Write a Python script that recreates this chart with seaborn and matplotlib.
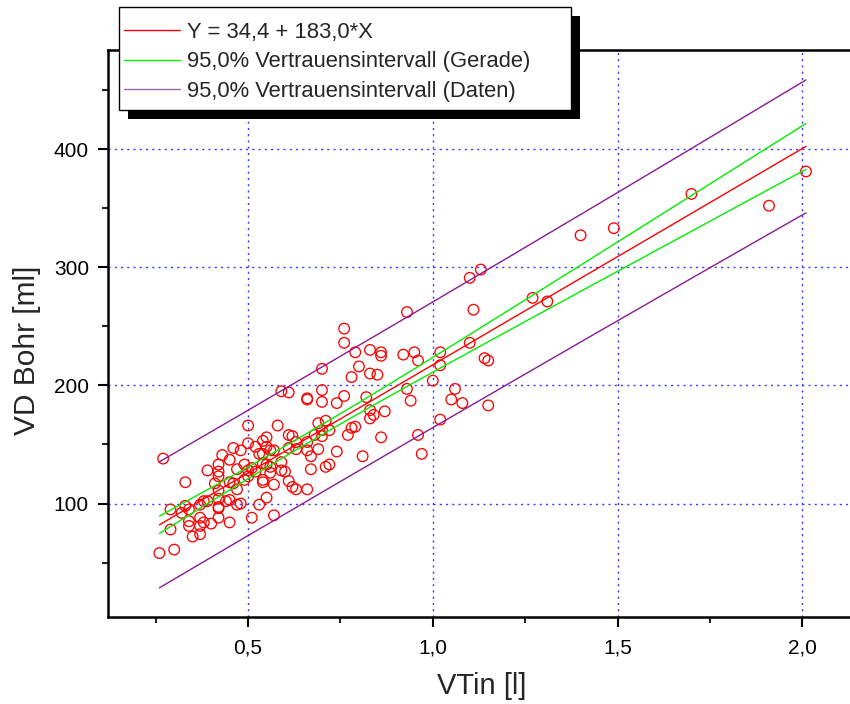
import numpy as np
import pandas as pd
import matplotlib
matplotlib.use("Agg")
import matplotlib.pyplot as plt
import seaborn as sns
from matplotlib.patches import Rectangle
from matplotlib.lines import Line2D
from matplotlib.ticker import FixedLocator

# ---------------- data ----------------
vtin = [2.01, 1.91, 1.70, 1.49, 1.40, 1.13, 1.10, 0.93, 1.11, 1.27,
        1.31, 1.10, 1.02, 1.02, 0.95, 0.92, 0.96, 1.00, 1.14, 1.15,
        0.93, 0.94, 1.06, 1.05, 1.08, 1.15, 1.02, 0.96, 0.97, 0.76,
        0.76, 0.79, 0.83, 0.86, 0.86, 0.80, 0.70, 0.78, 0.83, 0.85,
        0.59, 0.61, 0.70, 0.66, 0.66, 0.70, 0.74, 0.76, 0.82, 0.83,
        0.87, 0.84, 0.83, 0.78, 0.79, 0.77, 0.86, 0.81, 0.74, 0.71,
        0.69, 0.70, 0.70, 0.72, 0.68, 0.66, 0.69, 0.66, 0.67, 0.67,
        0.71, 0.72, 0.66, 0.63, 0.62, 0.61, 0.59, 0.59, 0.60, 0.61,
        0.61, 0.62, 0.58, 0.50, 0.57, 0.55, 0.53, 0.51, 0.48, 0.45,
        0.44, 0.45, 0.42, 0.42, 0.42, 0.42, 0.42, 0.41, 0.45, 0.46,
        0.47, 0.49, 0.50, 0.51, 0.52, 0.50, 0.49, 0.47, 0.42, 0.42,
        0.42, 0.39, 0.33, 0.43, 0.45, 0.46, 0.48, 0.50, 0.52, 0.53,
        0.54, 0.55, 0.55, 0.56, 0.57, 0.54, 0.54, 0.55, 0.56, 0.54,
        0.54, 0.56, 0.57, 0.47, 0.39, 0.38, 0.37, 0.34, 0.33, 0.32,
        0.29, 0.37, 0.38, 0.40, 0.37, 0.34, 0.34, 0.37, 0.35, 0.29,
        0.26, 0.30, 0.27, 0.63, 0.63]
vd_bohr = [381, 352, 362, 333, 327, 298, 291, 262, 264, 274,
           271, 236, 228, 217, 228, 226, 221, 204, 223, 221,
           197, 187, 197, 188, 185, 183, 171, 158, 142, 248,
           236, 228, 230, 228, 225, 216, 214, 207, 210, 209,
           195, 194, 196, 189, 188, 186, 185, 191, 190, 179,
           178, 175, 172, 164, 165, 158, 156, 140, 144, 170,
           168, 162, 157, 162, 158, 152, 146, 145, 140, 129,
           131, 133, 112, 112, 114, 119, 135, 128, 127, 147,
           158, 157, 166, 166, 90, 105, 99, 88, 100, 103,
           102, 84, 88, 97, 96, 104, 111, 117, 118, 117,
           112, 120, 123, 130, 127, 128, 133, 129, 133, 127,
           123, 128, 118, 141, 137, 147, 145, 151, 148, 142,
           153, 156, 148, 145, 145, 142, 134, 133, 131, 120,
           118, 126, 116, 99, 102, 102, 99, 95, 98, 92,
           95, 88, 84, 83, 81, 85, 81, 74, 72, 78,
           58, 61, 138, 152, 146]

fit_intercept = 34.4
fit_slope = 183.0
t_975 = 1.976

x_ticks = [0.5, 1.0, 1.5, 2.0]
x_tick_labels = ["0,5", "1,0", "1,5", "2,0"]
x_minor = [0.25, 0.75, 1.25, 1.75]
y_ticks = [100, 200, 300, 400]
y_tick_labels = ["100", "200", "300", "400"]
y_minor = [50, 150, 250, 350, 450]
legend_labels = ["Y = 34,4 + 183,0*X",
                 "95,0% Vertrauensintervall (Gerade)",
                 "95,0% Vertrauensintervall (Daten)"]
x_label = "VTin [l]"
y_label = "VD Bohr [ml]"

# ---------------- derived regression bands ----------------
df = pd.DataFrame({"VTin": vtin, "VD": vd_bohr})
x = df["VTin"].to_numpy(float)
y = df["VD"].to_numpy(float)
n = len(x)
resid = y - (fit_intercept + fit_slope * x)
s = np.sqrt(np.sum(resid ** 2) / (n - 2))
xbar = x.mean()
sxx = np.sum((x - xbar) ** 2)
xl = np.linspace(x.min(), x.max(), 200)
yl = fit_intercept + fit_slope * xl
conf = t_975 * s * np.sqrt(1.0 / n + (xl - xbar) ** 2 / sxx)
pred = t_975 * s * np.sqrt(1.0 + 1.0 / n + (xl - xbar) ** 2 / sxx)

# ---------------- plotting ----------------
sns.set_style("white")
plt.rcParams["font.family"] = ["Liberation Sans", "DejaVu Sans"]

W, H = 850, 704
fig = plt.figure(figsize=(W / 100, H / 100), dpi=100)
ax_l, ax_b, ax_t = 107.7, 616.7, 50.0
ax = fig.add_axes([ax_l / W, (H - ax_b) / H, 1 - ax_l / W, (ax_b - ax_t) / H])

RED = "#ff0000"
GREEN = "#00ee00"
PURPLE = "#8a1a94"

sns.scatterplot(data=df, x="VTin", y="VD", ax=ax, marker="o", s=58,
                linewidth=0.95, zorder=3, legend=False)
coll = ax.collections[-1]
coll.set_facecolor("none")
coll.set_edgecolor(RED)

lw = 1.0
sns.lineplot(x=xl, y=yl, ax=ax, color=RED, lw=lw, sort=False, estimator=None, zorder=4)
sns.lineplot(x=xl, y=yl + conf, ax=ax, color=GREEN, lw=lw, sort=False, estimator=None, zorder=4)
sns.lineplot(x=xl, y=yl - conf, ax=ax, color=GREEN, lw=lw, sort=False, estimator=None, zorder=4)
sns.lineplot(x=xl, y=yl + pred, ax=ax, color=PURPLE, lw=lw, sort=False, estimator=None, zorder=4)
sns.lineplot(x=xl, y=yl - pred, ax=ax, color=PURPLE, lw=lw, sort=False, estimator=None, zorder=4)

ax.set_xlim(0.12, 0.5 + (W - 248) / 369.5)
ax.set_ylim(4.2, 483.8)

ax.set_xticks(x_ticks)
ax.set_xticklabels(x_tick_labels)
ax.set_yticks(y_ticks)
ax.set_yticklabels(y_tick_labels)
ax.xaxis.set_minor_locator(FixedLocator(x_minor))
ax.yaxis.set_minor_locator(FixedLocator(y_minor))

ax.grid(True, which="major", color="#3a3aff", linestyle=(0, (1.5, 3)), linewidth=1.0)
ax.set_axisbelow(True)

for side in ["left", "bottom", "top"]:
    ax.spines[side].set_visible(True)
    ax.spines[side].set_color("black")
    ax.spines[side].set_linewidth(1.8)
ax.spines["right"].set_visible(False)

ax.tick_params(which="major", direction="out", length=7.5, width=1.5,
               labelsize=15, pad=6, colors="black", top=False, right=False,
               bottom=True, left=True)
ax.tick_params(which="minor", direction="out", length=4, width=1.5,
               top=False, right=False, bottom=True, left=True)
ax.tick_params(axis="x", pad=8)

ax.set_xlabel(x_label, fontsize=21, va="center")
ax.set_ylabel(y_label, fontsize=21.5, va="center")
ax.xaxis.set_label_coords((482 - ax_l) / (W - ax_l), (ax_b - 686) / (ax_b - ax_t))
ax.yaxis.set_label_coords((27 - ax_l) / (W - ax_l), (ax_b - 350) / (ax_b - ax_t))

# ---------------- legend with Origin-style drop shadow ----------------
lx0, ly0, lx1, ly1 = 119, 7, 571, 110
shadow = Rectangle((lx0 + 9, H - ly1 - 9), lx1 - lx0, ly1 - ly0, transform=None,
                   facecolor="black", edgecolor="none", zorder=9)
frame = Rectangle((lx0, H - ly1), lx1 - lx0, ly1 - ly0, transform=None,
                  facecolor="white", edgecolor="black", linewidth=1.0, zorder=9.5)
fig.add_artist(shadow)
fig.add_artist(frame)

handles = [Line2D([], [], color=RED, lw=1.0),
           Line2D([], [], color=GREEN, lw=1.0),
           Line2D([], [], color="#a060b0", lw=1.0)]
leg = fig.legend(handles, legend_labels, loc="upper left",
                 bbox_to_anchor=((lx0 + 5) / W, 1 - 22 / H),
                 bbox_transform=fig.transFigure, borderaxespad=0, borderpad=0,
                 fontsize=15.8, frameon=False, handlelength=2.55,
                 handletextpad=0.32, labelspacing=0.38)
leg.set_zorder(10)

fig.savefig("out.png", dpi=100)
